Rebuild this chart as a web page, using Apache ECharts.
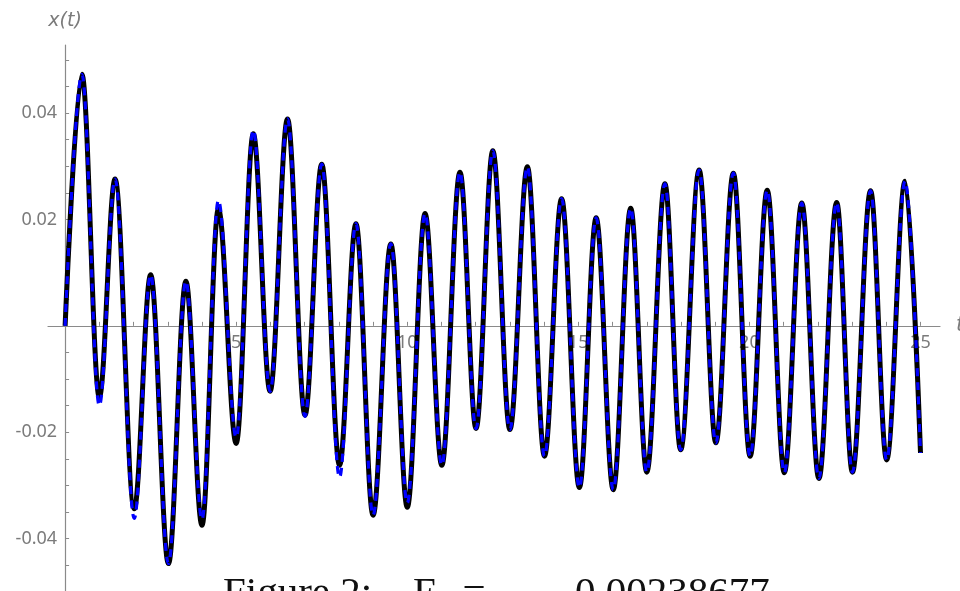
<!DOCTYPE html>
<html>
<head>
<meta charset="utf-8">
<script src="https://cdn.jsdelivr.net/npm/echarts@6/dist/echarts.min.js"></script>
<style>
  html, body { margin: 0; padding: 0; background: #fff; }
  #chart { width: 960px; height: 591px; }
</style>
</head>
<body>
<div id="chart"></div>
<script>
    //极值点时间 (t)
    var extremaTimes = [0, 0.49, 1.00, 1.46, 2.02, 2.50, 3.02, 3.53, 4.00, 4.48, 5.00, 5.50, 5.99, 6.50, 7.01, 7.50,
        8.02, 8.50, 9.00, 9.52, 10.00, 10.52, 11.01, 11.54, 12.01, 12.50, 13.00, 13.51, 14.01, 14.51, 15.03, 15.52,
        16.02, 16.53, 17.00, 17.53, 17.99, 18.53, 19.02, 19.53, 20.02, 20.52, 21.02, 21.53, 22.03, 22.55, 23.01,
        23.54, 24.01, 24.55, 25.00];

    //黑色实线 x(t)
    var blackValues = [0, 0.0473, -0.0134, 0.0276, -0.0344, 0.0096, -0.0447, 0.0084, -0.0375, 0.0220, -0.0221, 0.0361,
        -0.0123, 0.0389, -0.0168, 0.0304, -0.0262, 0.0192, -0.0356, 0.0154, -0.0341, 0.0211, -0.0262, 0.0289,
        -0.0193, 0.0329, -0.0195, 0.0299, -0.0245, 0.0239, -0.0304, 0.0203, -0.0308, 0.0221, -0.0275, 0.0267,
        -0.0233, 0.0293, -0.0220, 0.0287, -0.0245, 0.0255, -0.0276, 0.0231, -0.0287, 0.0232, -0.0275, 0.0254,
        -0.0252, 0.0272, -0.0239];

    //蓝色虚线 x(t)
    var blueValues = [0, 0.0473, -0.0150, 0.0276, -0.0362, 0.0096, -0.0447, 0.0084, -0.0364, 0.0236, -0.0210, 0.0368,
        -0.0123, 0.0389, -0.0170, 0.0304, -0.0285, 0.0192, -0.0356, 0.0154, -0.0333, 0.0211, -0.0262, 0.0289,
        -0.0193, 0.0329, -0.0195, 0.0299, -0.0245, 0.0239, -0.0304, 0.0203, -0.0308, 0.0221, -0.0275, 0.0267,
        -0.0233, 0.0293, -0.0220, 0.0287, -0.0245, 0.0255, -0.0276, 0.0231, -0.0287, 0.0232, -0.0275, 0.0254,
        -0.0252, 0.0272, -0.0239];

    //刻度
    var xLabelValues = [5, 10, 15, 20, 25];
    var yLabelValues = [-0.04, -0.02, 0.02, 0.04];

    var xTickValues = [];
    for (var i = 1; i <= 25; i++) xTickValues.push(i);
    var yTickValues = [];
    for (var k = -10; k <= 10; k++) { if (k != 0) yTickValues.push(k * 0.005); }

    function pairs(ts, vs) {
        var out = [];
        for (var i = 0; i < ts.length; i++) out.push([ts[i], vs[i]]);
        return out;
    }

    var labelColor = '#7b7b7b';
    var axisColor = '#8a8a8a';

    //坐标轴范围 (像素与数值对应)
    var xMin = -0.5, xMax = 25.57;
    var yMin = -0.06, yMax = 0.0528;
    var gridLeft = 48, gridRight = 20, gridTop = 45, gridBottom = -54;
    var plotW = 960 - gridLeft - gridRight;
    var plotH = 591 - gridTop - gridBottom;
    //轴线移到零点位置
    var yAxisOffset = -(0 - xMin) / (xMax - xMin) * plotW;
    var xAxisOffset = -(0 - yMin) / (yMax - yMin) * plotH;

    var myChart = echarts.init(document.getElementById('chart'));

    var option = {
        animation: false,
        backgroundColor: '#fff',
        grid: { left: gridLeft, right: gridRight, top: gridTop, bottom: gridBottom, outerBoundsMode: 'none', containLabel: false },
        xAxis: {
            type: 'value',
            min: xMin,
            max: xMax,
            offset: xAxisOffset,
            name: 't',
            nameLocation: 'end',
            nameGap: 16,
            nameTextStyle: { color: labelColor, fontSize: 21, fontStyle: 'italic', fontFamily: 'DejaVu Sans', verticalAlign: 'middle' },
            axisLine: { onZero: false, lineStyle: { color: axisColor, width: 1.2 } },
            axisTick: { show: true, inside: true, length: 4, customValues: xTickValues, lineStyle: { color: axisColor } },
            axisLabel: {
                customValues: xLabelValues,
                color: labelColor, fontSize: 18, fontFamily: 'Noto Sans', margin: 8
            },
            splitLine: { show: false }
        },
        yAxis: {
            type: 'value',
            min: yMin,
            max: yMax,
            offset: yAxisOffset,
            name: 'x(t)',
            nameLocation: 'end',
            nameGap: 14,
            nameTextStyle: { color: labelColor, fontSize: 19, fontStyle: 'italic', fontFamily: 'DejaVu Sans', align: 'center' },
            axisLine: { onZero: false, lineStyle: { color: axisColor, width: 1.2 } },
            axisTick: { show: true, inside: true, length: 4, customValues: yTickValues, lineStyle: { color: axisColor } },
            axisLabel: {
                customValues: yLabelValues,
                color: labelColor, fontSize: 18, fontFamily: 'Noto Sans', margin: 8,
                formatter: function (v) { return v.toFixed(2); }
            },
            splitLine: { show: false }
        },
        series: [
            {
                name: 'black',
                type: 'line',
                data: pairs(extremaTimes, blackValues),
                showSymbol: false,
                smooth: 0.36,
                smoothMonotone: 'x',
                lineStyle: { color: '#000', width: 5 },
                z: 2
            },
            {
                name: 'blue',
                type: 'line',
                data: pairs(extremaTimes, blueValues),
                showSymbol: false,
                smooth: 0.36,
                smoothMonotone: 'x',
                lineStyle: { color: '#0000ff', width: 3.2, type: [8, 6] },
                z: 3
            }
        ],
        graphic: [
            { type: 'text', left: 223, top: 574, style: { text: 'Figure 2:', font: '41px "Liberation Serif"', fill: '#111' } },
            { type: 'text', left: 413, top: 574, style: { text: 'E\u2080 =', font: '41px "Liberation Serif"', fill: '#111' } },
            { type: 'text', left: 575, top: 574, style: { text: '0.00238677', font: '41px "Liberation Serif"', fill: '#111' } }
        ]
    };

    myChart.setOption(option);
</script>
</body>
</html>
